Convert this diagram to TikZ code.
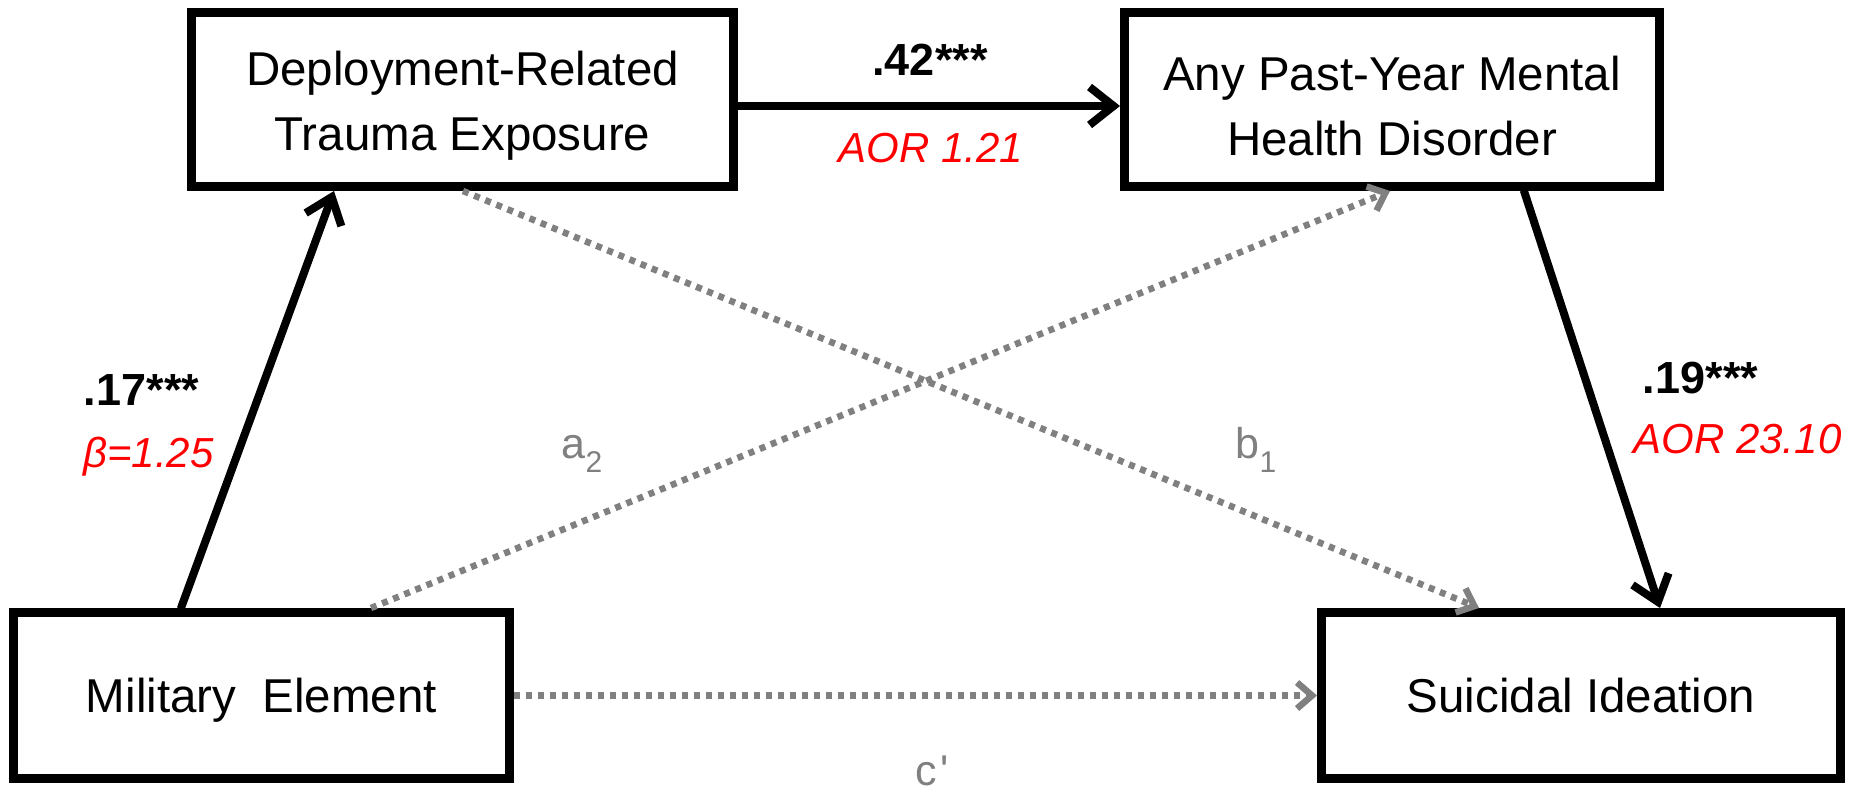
\documentclass[tikz,border=0pt]{standalone}
\usepackage{fontspec}
\setmainfont{Liberation Sans}
\usetikzlibrary{arrows.meta,calc}
\definecolor{pathgray}{RGB}{128,128,128}
\definecolor{coefred}{RGB}{255,0,0}
% invisible strut that lowers a two-line box text a little
\newcommand{\topstrut}{\rule{0pt}{46.6pt}}

\begin{document}
\begin{tikzpicture}[x=1pt,y=-1pt,
  box/.style={draw=black, line width=9pt, fill=white, inner sep=0pt, outer sep=0pt,
    align=center, font=\fontsize{47.5}{65}\selectfont},
  onebox/.style={box, text height=34.6pt, text depth=0pt},
  sigpath/.style={draw=black, line width=8pt, line cap=round,
    -{Straight Barb[length=24pt,width=38pt]}},
  nspath/.style={draw=pathgray, line width=6.5pt, dash pattern=on 6pt off 6pt,
    -{Straight Barb[length=15pt,width=26pt]}},
  coef/.style={font=\bfseries\fontsize{45}{45}\selectfont, anchor=base},
  ratio/.style={text=coefred, font=\itshape\fontsize{42}{42}\selectfont, anchor=base},
  pathlbl/.style={text=pathgray, font=\fontsize{43}{43}\selectfont, anchor=base}
]
\fill[white] (0,0) rectangle (1853,792);
\useasboundingbox (0,0) rectangle (1853,792);

% variables
\node[box, minimum width=542pt, minimum height=174pt] (dtr) at (462.5,99.5)
  {\topstrut Deployment-Related\\Trauma Exposure};
\node[box, minimum width=535pt, minimum height=174pt] (mhd) at (1392,99.5)
  {\topstrut Any Past-Year Mental\\Health Disorder};
\node[onebox, minimum width=496pt, minimum height=166pt] (mil) at (261.5,695.5)
  {Military~~Element};
\node[onebox, minimum width=519pt, minimum height=166pt] (si) at (1581,695.5)
  {Suicidal Ideation};

% non-significant paths
\draw[nspath] ($(dtr.south)+(0.5,4.5)$) -- ($(si.north)+(-102,-4.5)$);
\draw[nspath] ($(mil.north)+(109.5,-4.5)$) -- ($(mhd.south)+(-2,4.5)$);
\draw[nspath] ($(mil.east)+(4.5,0)$) -- ($(si.west)+(-4.5,0)$);

% significant paths
\draw[sigpath] ($(mil.north)+(-80.5,-4.5)$) -- ($(dtr.south)+(-128.5,4.5)$);
\draw[sigpath] ($(dtr.east)+(4.5,6.5)$) -- ($(mhd.west)+(-4.5,6.5)$);
\draw[sigpath] ($(mhd.south)+(132,4.5)$) -- ($(si.north)+(79,-4.5)$);

% coefficients
\node[coef] (c42) at (930,75) {.42***};
\node[ratio] (r42) at (931,162) {AOR 1.21};
\node[coef] (c17) at (141.5,405) {.17***};
\node[ratio] (r17) at (148.5,467) {β=1.25};
\node[coef] (c19) at (1700.5,393) {.19***};
\node[ratio] (r19) at (1737.5,453) {AOR 23.10};

% path names
\node[pathlbl] (la2) at (582,458) {a\raisebox{-14pt}{\fontsize{30}{30}\selectfont 2}};
\node[pathlbl] (lb1) at (1256,458) {b\raisebox{-14pt}{\fontsize{30}{30}\selectfont 1}};
\node[pathlbl] (lc) at (932,785) {c\hspace{3pt}\textquotesingle};
\end{tikzpicture}
\end{document}
